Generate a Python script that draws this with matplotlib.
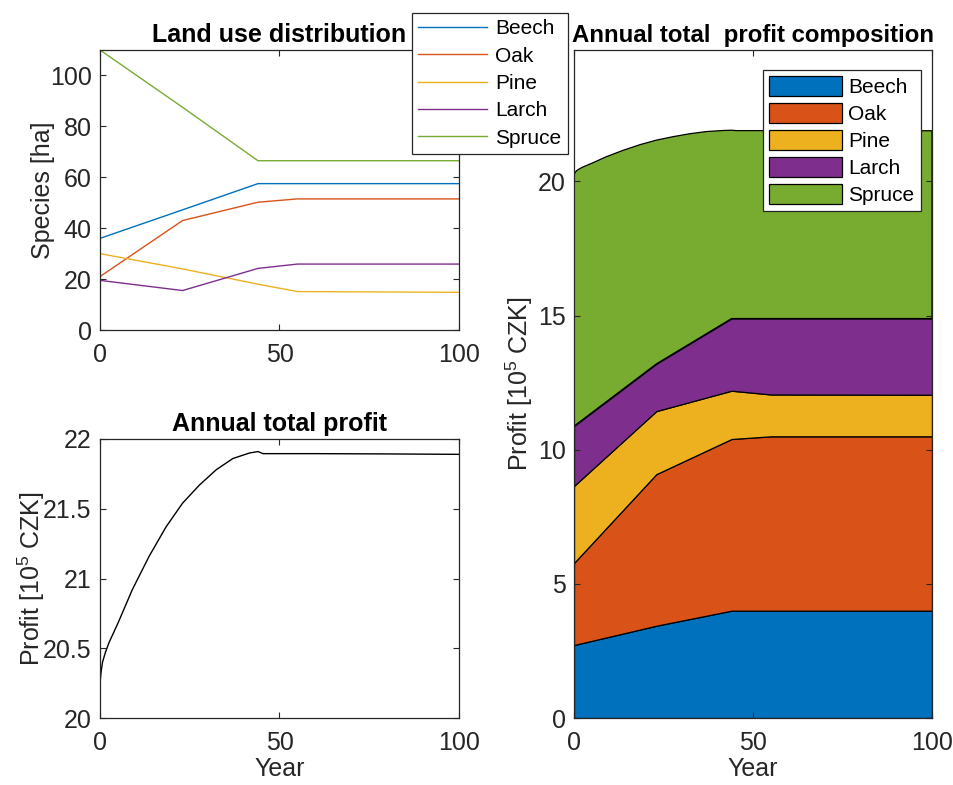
import numpy as np
import matplotlib
matplotlib.use("Agg")
import matplotlib.pyplot as plt

plt.rcParams['font.family'] = ['Liberation Sans', 'DejaVu Sans']
plt.rcParams['mathtext.default'] = 'regular'

# ---------------------------------------------------------------------------
# data
species = ['Beech', 'Oak', 'Pine', 'Larch', 'Spruce']
colors = ['#0072BD', '#D95319', '#EDB120', '#7E2F8E', '#77AC30']

# land use [ha] at the break years
land_years = [0, 23, 44, 55, 100]
beech_ha = [36.0, 47.2, 57.5, 57.5, 57.5]
oak_ha = [21.0, 43.0, 50.2, 51.5, 51.5]
pine_ha = [30.0, 24.0, 18.0, 15.1, 14.8]
larch_ha = [19.5, 15.5, 24.2, 25.9, 25.9]
spruce_ha = [110.0, 87.5, 66.5, 66.5, 66.5]

# annual total profit [1e5 CZK]
profit_years = [0, 0.3, 0.7, 1.5, 2.5, 5, 9, 13.7, 18.4, 23, 27.7, 32.4, 37,
                41.7, 44, 45.4, 50, 60, 80, 100]
profit_total = [20.25, 20.33, 20.40, 20.47, 20.54, 20.68, 20.92, 21.16, 21.37,
                21.54, 21.67, 21.78, 21.86, 21.90, 21.91, 21.895, 21.895,
                21.895, 21.893, 21.89]

# profit composition [1e5 CZK] at the break years (lower four layers)
beech_profit = [2.72, 3.44, 4.00, 4.00, 4.00]
oak_profit = [3.06, 5.65, 6.40, 6.50, 6.50]
pine_profit = [2.87, 2.35, 1.80, 1.56, 1.55]
larch_profit = [2.23, 1.76, 2.69, 2.83, 2.84]

W, H = 954, 785
FS = 18
fig = plt.figure(figsize=(W / 100, H / 100), dpi=100)


def box(l, t, r, b):
    return [l / W, 1 - b / H, (r - l) / W, (b - t) / H]


def style(ax):
    ax.tick_params(direction='in', top=True, right=True, labelsize=FS,
                   colors='#262626', length=4, width=0.8, pad=6)
    ax.tick_params(axis='x', pad=9)
    for s in ax.spines.values():
        s.set_color('#262626')
        s.set_linewidth(0.9)


# ---- land use
ax1 = fig.add_axes(box(100, 50, 459, 330))
for vals, name, c in zip([beech_ha, oak_ha, pine_ha, larch_ha, spruce_ha], species, colors):
    ax1.plot(land_years, vals, color=c, lw=1.0, label=name)
ax1.set_xlim(0, 100)
ax1.set_ylim(0, 110)
ax1.set_xticks([0, 50, 100])
ax1.set_yticks(range(0, 101, 20))
ax1.set_ylabel('Species [ha]', fontsize=FS, color='#262626', labelpad=-4)
ax1.set_title('Land use distribution', fontsize=FS, fontweight='bold', pad=6)
style(ax1)
leg1 = ax1.legend(loc='upper left', bbox_to_anchor=(412 / W, 1 - 13 / H),
                  bbox_transform=fig.transFigure, fontsize=15, frameon=True,
                  fancybox=False, framealpha=1, edgecolor='#262626',
                  handlelength=3.3, handletextpad=0.4, labelspacing=0.4,
                  borderpad=0.3, borderaxespad=0)
leg1.get_frame().set_linewidth(0.9)

# ---- annual total profit
ax2 = fig.add_axes(box(100, 439, 459, 718))
ax2.plot(profit_years, profit_total, color='black', lw=1.0)
ax2.set_xlim(0, 100)
ax2.set_ylim(20, 22)
ax2.set_xticks([0, 50, 100])
ax2.set_yticks([20, 20.5, 21, 21.5, 22])
ax2.set_yticklabels(['20', '20.5', '21', '21.5', '22'])
ax2.set_xlabel('Year', fontsize=FS, color='#262626', labelpad=2)
ax2.set_ylabel('Profit [10$^5$ CZK]', fontsize=FS, color='#262626', labelpad=-3)
ax2.set_title('Annual total profit', fontsize=FS, fontweight='bold', pad=6)
style(ax2)

# ---- profit composition
ax3 = fig.add_axes(box(574, 50, 932, 718))
layers = [beech_profit, oak_profit, pine_profit, larch_profit]
bottom = np.zeros(len(land_years))
for vals, name, c in zip(layers, species[:4], colors[:4]):
    top = bottom + np.array(vals)
    ax3.fill_between(land_years, bottom, top, facecolor=c, edgecolor='black',
                     lw=0.9, label=name)
    bottom = top
# spruce fills from the larch top up to the total profit curve
xs = np.concatenate([profit_years, land_years[::-1]])
ys = np.concatenate([profit_total, bottom[::-1]])
ax3.fill(xs, ys, facecolor=colors[4], edgecolor='black', lw=0.9, label=species[4])
ax3.set_xlim(0, 100)
ax3.set_ylim(0, 24.9)
ax3.set_xticks([0, 50, 100])
ax3.set_yticks([0, 5, 10, 15, 20])
ax3.set_xlabel('Year', fontsize=FS, color='#262626', labelpad=2)
ax3.set_ylabel('Profit [10$^5$ CZK]', fontsize=FS, color='#262626', labelpad=2)
ax3.set_title('Annual total  profit composition', fontsize=17.3, fontweight='bold', pad=6)
style(ax3)
ax3.set_axisbelow(False)
leg3 = ax3.legend(loc='upper left', bbox_to_anchor=(763 / W, 1 - 70 / H),
                  bbox_transform=fig.transFigure, fontsize=15, frameon=True,
                  fancybox=False, framealpha=1, edgecolor='#262626',
                  handlelength=3.5, handleheight=1.1, handletextpad=0.3,
                  labelspacing=0.28, borderpad=0.3, borderaxespad=0)
leg3.get_frame().set_linewidth(0.9)

fig.savefig('out.png', dpi=100)
